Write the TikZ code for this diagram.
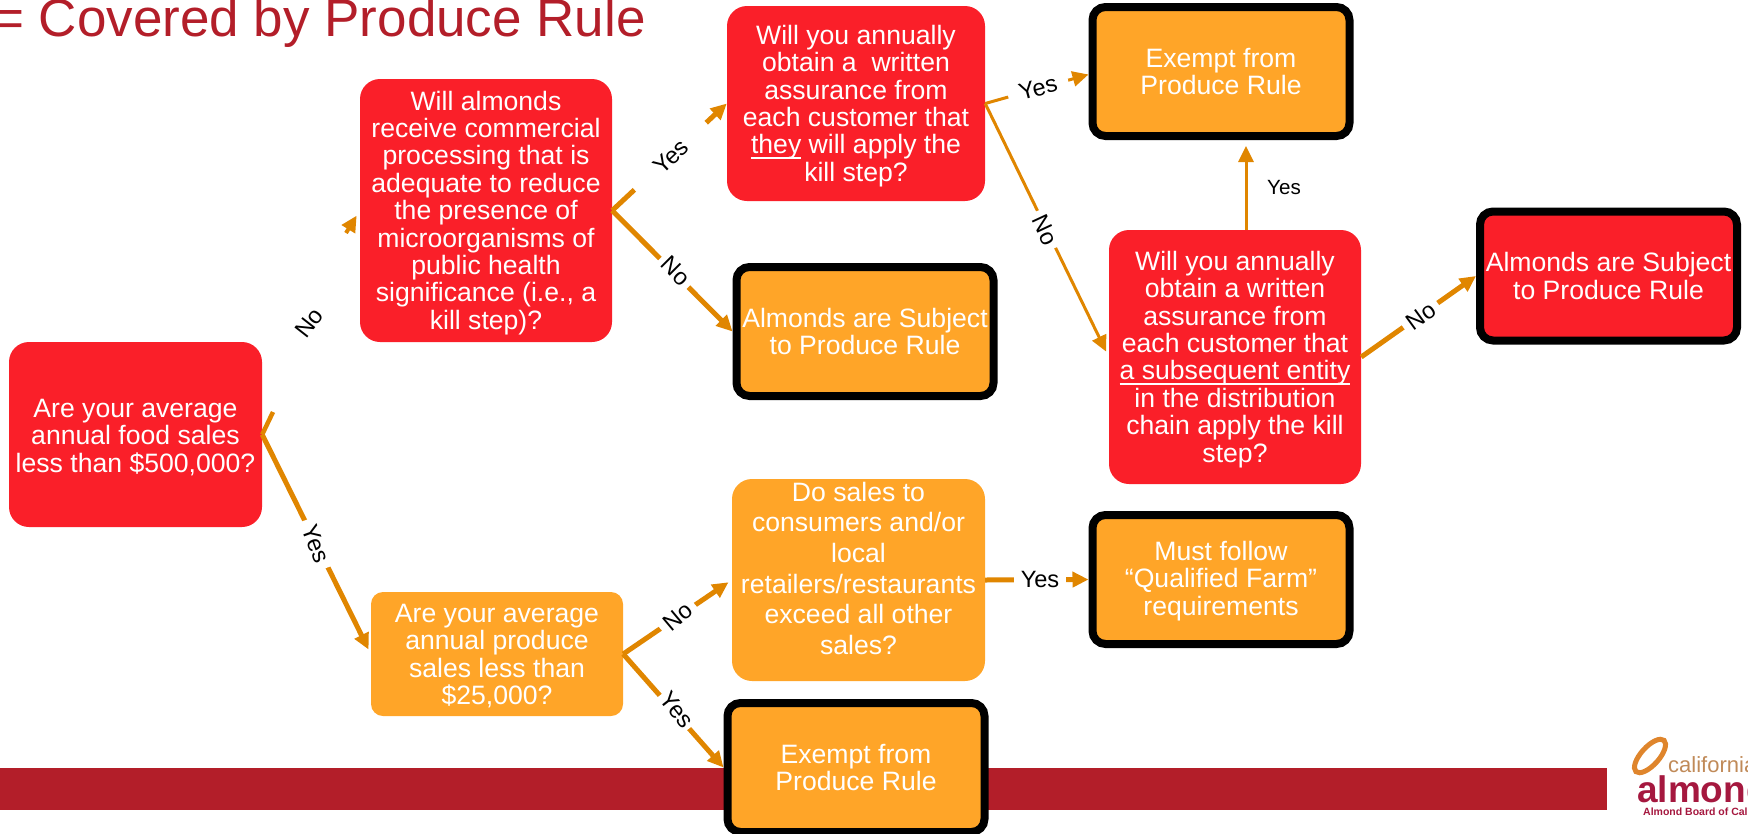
\documentclass[tikz,border=0pt]{standalone}
\usepackage{fontspec}
\setmainfont{Liberation Sans}
\usetikzlibrary{arrows.meta}
\definecolor{boxred}{HTML}{FA1F29}
\definecolor{boxorange}{HTML}{FFA528}
\definecolor{linkorange}{HTML}{E08600}
\definecolor{barred}{HTML}{B31E29}
\definecolor{logotan}{HTML}{C08A58}
\definecolor{logocrimson}{HTML}{A5183F}
\newcommand{\toplift}{\rule{0pt}{24pt}}
\newcommand{\underword}[1]{\setbox0=\hbox{#1}\rlap{\rule[-5pt]{\wd0}{1.7pt}}\box0\relax}
\tikzset{
    question/.style={draw=none, text=white, inner sep=0pt, align=center, rounded corners=20pt,
        font=\fontsize{26.6}{27.4}\selectfont},
    redbox/.style={question, fill=boxred},
    orangebox/.style={question, fill=boxorange},
    outcome/.style={question, draw=black, line width=8pt, rounded corners=13pt, minimum width=257pt, minimum height=129pt},
    link/.style={draw=linkorange, line width=5pt, -{Triangle[length=16pt,width=15pt]}},
    thinlink/.style={link, line width=3pt},
    stub/.style={draw=linkorange, line width=4.5pt},
    answer/.style={fill=white, inner sep=0pt, minimum height=24pt, font=\fontsize{23.6}{25}\selectfont},
}
\begin{document}
\begin{tikzpicture}[x=1pt,y=-1pt]
    \useasboundingbox (0,0) rectangle (1748,833);

    \fill[barred] (0,768) rectangle (1607,810);
    \draw (-7,36) node[anchor=base west, text=barred, inner sep=0pt, font=\fontsize{53}{60}\selectfont] (title) {= Covered by Produce Rule};

    \draw[logotan!50!orange, line width=5pt, rotate around={48:(1650,756)}] (1650,756) ellipse (21pt and 9pt);
    \draw (1668,772) node[anchor=base west, text=logotan, inner sep=0pt, font=\fontsize{22}{24}\selectfont] (logotop) {california};
    \draw (1637,802) node[anchor=base west, text=logocrimson, inner sep=0pt, font=\bfseries\fontsize{37}{40}\selectfont] (logomain) {almond};
    \draw (1643,815) node[anchor=base west, text=logocrimson, inner sep=0pt, font=\bfseries\fontsize{10.5}{12}\selectfont] (logosub) {Almond Board of California};

    \draw (135.5,434.5) node[redbox, minimum width=253pt, minimum height=185pt] (foodsales) {\toplift Are your average\\annual food sales\\less than \$500,000?};
    \draw (486,210.5) node[redbox, minimum width=252pt, minimum height=263pt] (killstep) {\toplift Will almonds\\receive commercial\\processing that is\\adequate to reduce\\the presence of\\microorganisms of\\public health\\significance (i.e., a\\kill step)?};
    \draw (856,103.5) node[redbox, minimum width=258pt, minimum height=195pt] (customer) {\toplift Will you annually\\obtain a\ \ written\\assurance from\\each customer that\\\underword{they} will apply the\\kill step?};
    \draw (1235,357) node[redbox, minimum width=252pt, minimum height=254pt] (entity) {\toplift Will you annually\\obtain a written\\assurance from\\each customer that\\\underword{a subsequent entity}\\in the distribution\\chain apply the kill\\step?};
    \draw (497,654) node[orangebox, rounded corners=12pt, minimum width=252pt, minimum height=124pt] (producesales) {\rule{0pt}{22pt}Are your average\\annual produce\\sales less than\\\$25,000?};
    \draw (858.5,580) node[orangebox, minimum width=253pt, minimum height=202pt, font=\fontsize{26.6}{30.7}\selectfont] (localsales) {Do sales to\\consumers and/or\\local\\retailers/restaurants\\exceed all other\\sales?\\[-7pt]~};

    \draw (865,331.5) node[outcome, fill=boxorange] (subjectleft) {Almonds are Subject\\to Produce Rule};
    \draw (1221,71.5) node[outcome, fill=boxorange] (exempttop) {Exempt from\\Produce Rule};
    \draw (1608.5,276) node[outcome, fill=boxred] (subjectright) {Almonds are Subject\\to Produce Rule};
    \draw (1221,579.5) node[outcome, fill=boxorange] (qualified) {\rule{0pt}{22pt}Must follow\\``Qualified Farm''\\requirements};
    \draw (856,767.5) node[outcome, fill=boxorange] (exemptbottom) {Exempt from\\Produce Rule};

    \coordinate (nostub) at (273,412);
    \coordinate (nohead) at (346,233);
    \draw[stub] (foodsales.east) -- (nostub);
    \draw[link, line width=4pt, shorten >=6pt] (nohead) -- (killstep.west);
    \draw (309,323) node[answer, rotate=52] (nofood) {No};

    \draw[link, shorten >=5pt] (foodsales.east) -- (producesales.west);
    \draw (316,544) node[answer, rotate=-70, minimum width=52pt] (yesfood) {Yes};

    \draw[link] (killstep.east) -- (customer.west);
    \draw (671,157) node[answer, rotate=43, minimum width=98pt] (yeskill) {Yes};
    \draw[link] (killstep.east) -- (subjectleft.west);
    \draw (676,271) node[answer, rotate=-45, minimum width=40pt] (nokill) {No};

    \draw[thinlink] (customer.east) -- ([yshift=-3pt]exempttop.west);
    \draw (1038,88) node[answer, rotate=15, minimum width=62pt] (yescustomer) {Yes};
    \draw[thinlink, shorten >=6pt] (customer.east) -- (entity.west);
    \draw (1045,230) node[answer, rotate=-65, minimum width=41pt] (nocustomer) {No};

    \draw[thinlink, shorten >=6pt] ([xshift=11pt]entity.north) -- ([xshift=25pt]exempttop.south);
    \draw (1284,188) node[inner sep=0pt, font=\fontsize{20.6}{22}\selectfont] (yesentity) {Yes};
    \draw[link] (entity.east) -- (subjectright.west);
    \draw (1421,316) node[answer, rotate=36, minimum width=42pt] (noentity) {No};

    \draw[link, shorten >=4pt] (producesales.east) -- (localsales.west);
    \draw (678,617) node[answer, rotate=40, minimum width=42pt] (noproduce) {No};
    \draw[link] (producesales.east) -- (exemptbottom.west);
    \draw (677,710) node[answer, rotate=-52, minimum width=44pt] (yesproduce) {Yes};

    \draw[link] (localsales.east) -- (qualified.west);
    \draw (1040,579) node[answer, minimum width=52pt] (yeslocal) {Yes};
\end{tikzpicture}
\end{document}
